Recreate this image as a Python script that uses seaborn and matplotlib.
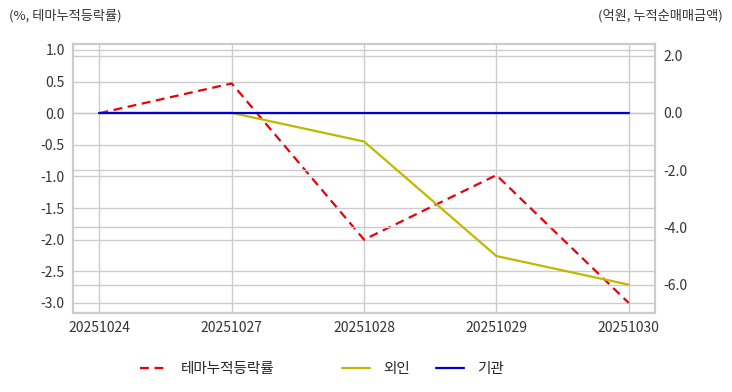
import numpy as np
import pandas as pd
import matplotlib
matplotlib.use("Agg")
import matplotlib.pyplot as plt
import seaborn as sns

dates = ["20251024", "20251027", "20251028", "20251029", "20251030"]
theme_rate = [0.0, 0.47, -2.0, -0.98, -3.0]     # %, 테마누적등락률
foreign = [0.0, 0.0, -1.0, -5.0, -6.0]          # 억원, 외인
institution = [0.0, 0.0, 0.0, 0.0, 0.0]         # 억원, 기관

sns.set_style("whitegrid")
plt.rcParams["font.family"] = ["Noto Sans CJK KR", "DejaVu Sans"]
plt.rcParams["axes.unicode_minus"] = False

df = pd.DataFrame({"x": np.arange(len(dates)), "theme": theme_rate,
                   "foreign": foreign, "inst": institution})

fig = plt.figure(figsize=(7.32, 3.92), dpi=100)
ax = fig.add_axes([0.0997, 0.2015, 0.7953, 0.6865])
ax2 = ax.twinx()

grid_c = "#cccccc"
sns.lineplot(data=df, x="x", y="theme", ax=ax, color="#e8000b", lw=1.6,
             linestyle=(0, (4, 2.5)), label="테마누적등락률", legend=False)
sns.lineplot(data=df, x="x", y="foreign", ax=ax2, color="#bfb900", lw=1.6,
             label="외인", legend=False)
sns.lineplot(data=df, x="x", y="inst", ax=ax2, color="#0000d0", lw=1.6,
             label="기관", legend=False)

ax.set_xlim(-0.2, 4.2)
ax.set_ylim(-3.16, 1.095)
ax2.set_ylim(-6.99, 2.41)
ax.set_xticks(range(len(dates)))
ax.set_xticklabels(dates)
ax.set_yticks(np.arange(-3.0, 1.01, 0.5))
ax.set_yticklabels([f"{v:.1f}" for v in np.arange(-3.0, 1.01, 0.5)])
ax2.set_yticks([-6, -4, -2, 0, 2])
ax2.set_yticklabels([f"{v:.1f}" for v in [-6, -4, -2, 0, 2]])
ax.set_xlabel("")
ax.set_ylabel("")
ax2.set_ylabel("")

for a in (ax, ax2):
    a.grid(True, color=grid_c, lw=1)
    a.tick_params(labelsize=10, colors="#333333", length=0, pad=6)
    for s in a.spines.values():
        s.set_color(grid_c)
        s.set_linewidth(1.5)
ax2.grid(True, axis="y", color=grid_c, lw=1)
ax2.grid(False, axis="x")
ax.set_axisbelow(True)

fig.text(0.012, 0.96, "(%, 테마누적등락률)", fontsize=9.5, color="#333333", ha="left", va="center")
fig.text(0.988, 0.96, "(억원, 누적순매매금액)", fontsize=9.5, color="#333333", ha="right", va="center")

h1, l1 = ax.get_legend_handles_labels()
h2, l2 = ax2.get_legend_handles_labels()
handles = h1 + h2
labels = l1 + l2
leg_x = [140 / 732, 342 / 732, 436 / 732]
for h, l, xpos in zip(handles, labels, leg_x):
    fig.legend([h], [l], loc="center left", bbox_to_anchor=(xpos, 1 - 369 / 392),
               frameon=False, fontsize=10.5, handlelength=1.9, handletextpad=0.9,
               borderpad=0, borderaxespad=0)

fig.savefig("out.png", dpi=100)
